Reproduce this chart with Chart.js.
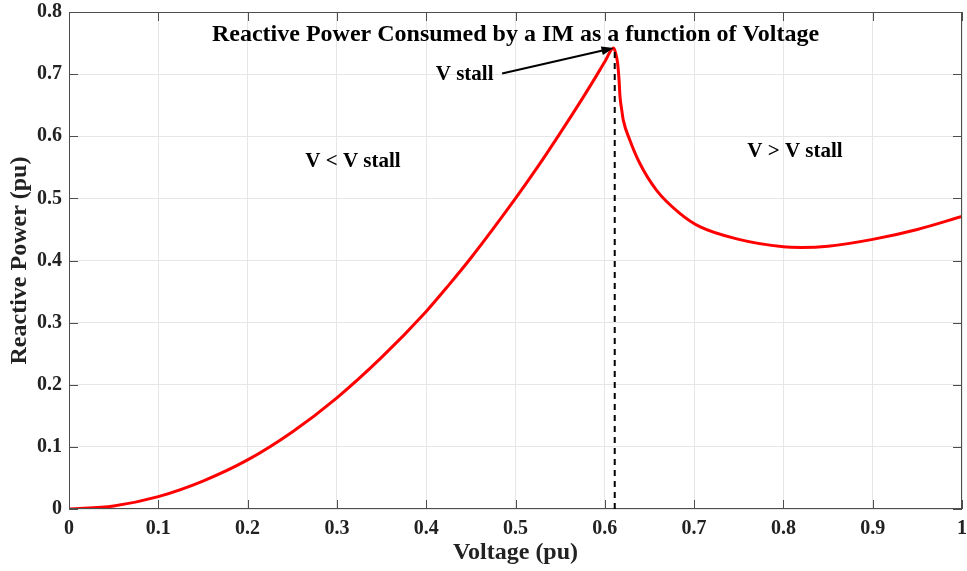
<!DOCTYPE html>
<html>
<head>
<meta charset="utf-8">
<script src="https://cdn.jsdelivr.net/npm/chart.js@4"></script>
<style>
  html, body { margin: 0; padding: 0; background: #fff; }
  #wrap { width: 967px; height: 571px; }
</style>
</head>
<body>
<div id="wrap"><canvas id="chart" width="967" height="571"></canvas></div>
<script>
// values
var voltage  = [0, 0.05, 0.1, 0.15, 0.2, 0.25, 0.3, 0.35, 0.4, 0.425, 0.45, 0.5, 0.525, 0.55, 0.575, 0.59, 0.6, 0.61,
                0.6126, 0.6144, 0.616, 0.617, 0.619, 0.6207, 0.628, 0.639, 0.658, 0.684, 0.707,
                0.75, 0.8, 0.82, 0.85, 0.9, 0.95, 1.0];
var reactive = [0, 0.005, 0.02, 0.045, 0.079, 0.124, 0.179, 0.244, 0.318, 0.36, 0.404, 0.5, 0.551, 0.605, 0.661, 0.696, 0.72, 0.742,
                0.731, 0.717, 0.69, 0.664, 0.642, 0.626, 0.594, 0.557, 0.513, 0.476, 0.454,
                0.434, 0.422, 0.421, 0.423, 0.434, 0.45, 0.471];
var xTicks = [0, 0.1, 0.2, 0.3, 0.4, 0.5, 0.6, 0.7, 0.8, 0.9, 1];
var yTicks = [0, 0.1, 0.2, 0.3, 0.4, 0.5, 0.6, 0.7, 0.8];
var vStall = 0.61;
var qStall = 0.742;

var serif = "'Liberation Serif', 'Times New Roman', serif";
var axisGray = '#4d4d4d';

// text labels placed in data units: [text, x, y, size]
var notes = [
  ['Reactive Power Consumed by a IM as a function of Voltage', 0.5, 0.763, 24],
  ['V stall', 0.443, 0.699, 21],
  ['V < V stall', 0.318, 0.559, 21],
  ['V > V stall', 0.813, 0.575, 21]
];
var arrowFrom = [0.485, 0.701];

var extras = {
  id: 'extras',
  afterDatasetsDraw: function(chart) {
    var ctx = chart.ctx, xs = chart.scales.x, ys = chart.scales.y, a = chart.chartArea;
    ctx.save();
    // box + inward ticks
    ctx.strokeStyle = axisGray;
    ctx.lineWidth = 1;
    ctx.strokeRect(a.left + 0.5, a.top + 0.5, a.right - a.left - 1, a.bottom - a.top - 1);
    ctx.beginPath();
    xTicks.forEach(function(v) {
      var px = Math.round(xs.getPixelForValue(v)) + 0.5;
      ctx.moveTo(px, a.bottom); ctx.lineTo(px, a.bottom - 9);
      ctx.moveTo(px, a.top); ctx.lineTo(px, a.top + 9);
    });
    yTicks.forEach(function(v) {
      var py = Math.round(ys.getPixelForValue(v)) + 0.5;
      ctx.moveTo(a.left, py); ctx.lineTo(a.left + 9, py);
      ctx.moveTo(a.right, py); ctx.lineTo(a.right - 9, py);
    });
    ctx.stroke();

    // dashed stall line
    var sx = xs.getPixelForValue(vStall), sy = ys.getPixelForValue(qStall);
    ctx.strokeStyle = '#000';
    ctx.lineWidth = 2;
    ctx.setLineDash([6, 5]);
    ctx.beginPath();
    ctx.moveTo(sx + 1, sy + 4); ctx.lineTo(sx + 1, a.bottom);
    ctx.stroke();
    ctx.setLineDash([]);

    // arrow
    var fx = xs.getPixelForValue(arrowFrom[0]), fy = ys.getPixelForValue(arrowFrom[1]);
    var ang = Math.atan2(sy - fy, sx - fx);
    ctx.beginPath();
    ctx.moveTo(fx, fy); ctx.lineTo(sx - 8 * Math.cos(ang), sy - 8 * Math.sin(ang));
    ctx.stroke();
    ctx.fillStyle = '#000';
    ctx.beginPath();
    ctx.moveTo(sx, sy);
    ctx.lineTo(sx - 13 * Math.cos(ang - 0.35), sy - 13 * Math.sin(ang - 0.35));
    ctx.lineTo(sx - 13 * Math.cos(ang + 0.35), sy - 13 * Math.sin(ang + 0.35));
    ctx.closePath();
    ctx.fill();

    // text
    ctx.textAlign = 'center';
    ctx.textBaseline = 'middle';
    notes.forEach(function(n) {
      ctx.font = 'bold ' + n[3] + 'px ' + serif;
      ctx.fillText(n[0], xs.getPixelForValue(n[1]), ys.getPixelForValue(n[2]));
    });
    ctx.restore();
  }
};

var points = voltage.map(function(v, i) { return { x: v, y: reactive[i] }; });

new Chart(document.getElementById('chart'), {
  type: 'scatter',
  data: {
    datasets: [{
      data: points,
      showLine: true,
      borderColor: '#ff0000',
      borderWidth: 3,
      pointRadius: 0,
      cubicInterpolationMode: 'monotone'
    }]
  },
  options: {
    responsive: false,
    animation: false,
    layout: { padding: { top: 12, right: 5, left: 0, bottom: 0 } },
    plugins: { legend: { display: false }, tooltip: { enabled: false } },
    scales: {
      x: {
        type: 'linear', min: 0, max: 1,
        afterBuildTicks: function(s) { s.ticks = xTicks.map(function(v) { return { value: v }; }); },
        afterFit: function(s) { s.height = 62; s.paddingLeft = 0; s.paddingRight = 0; },
        grid: { color: '#e6e6e6', drawTicks: false },
        border: { display: false },
        ticks: { padding: 8, color: '#222', maxRotation: 0, font: { family: serif, size: 20, weight: 'bold' },
                 callback: function(v) { return String(Math.round(v * 10) / 10); } },
        title: { display: true, text: 'Voltage (pu)', color: '#222', padding: { top: 0, bottom: 6 },
                 font: { family: serif, size: 24, weight: 'bold', lineHeight: 1.0 } }
      },
      y: {
        type: 'linear', min: 0, max: 0.8,
        afterBuildTicks: function(s) { s.ticks = yTicks.map(function(v) { return { value: v }; }); },
        afterFit: function(s) { s.width = 69; s.paddingTop = 0; s.paddingBottom = 0; },
        grid: { color: '#e6e6e6', drawTicks: false },
        border: { display: false },
        ticks: { padding: 7, color: '#222', font: { family: serif, size: 20, weight: 'bold' },
                 callback: function(v) { return String(Math.round(v * 10) / 10); } },
        title: { display: true, text: 'Reactive Power (pu)', color: '#222', padding: { top: 8, bottom: 0 },
                 font: { family: serif, size: 24, weight: 'bold', lineHeight: 1.0 } }
      }
    }
  },
  plugins: [extras]
});
</script>
</body>
</html>
